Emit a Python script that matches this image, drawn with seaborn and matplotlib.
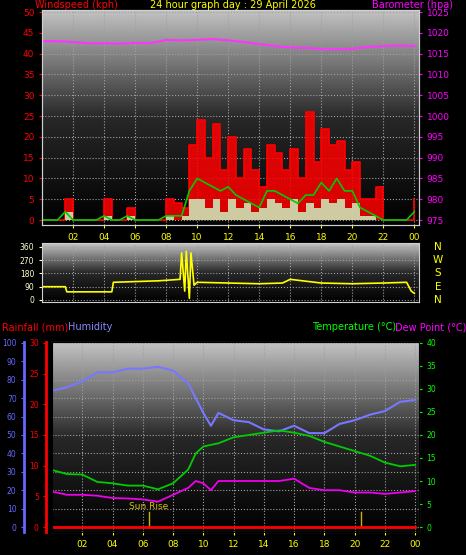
import numpy as np
import pandas as pd
import seaborn as sns
import matplotlib
matplotlib.use("Agg")
import matplotlib.pyplot as plt
from matplotlib.colors import LinearSegmentedColormap

# ---- data ----
half_hours = np.arange(0, 24.5, 0.5)
gust = [0, 0, 0, 5, 0, 0, 0, 0, 5, 0, 0, 3, 0, 0, 0, 0, 5, 4, 3, 18, 24, 15, 23, 12, 20, 10, 17,
        12, 8, 18, 16, 12, 17, 10, 26, 14, 22, 18, 19, 12, 14, 5, 5, 8, 0, 0, 0, 0, 5]
avg = [0, 0, 0, 2, 0, 0, 0, 0, 1, 0, 0, 1, 0, 0, 0, 0, 1, 1, 1, 7, 10, 9, 8, 7, 8, 6, 5,
       4, 3, 7, 7, 6, 5, 4, 6, 6, 9, 7, 10, 7, 7, 3, 2, 1, 0, 0, 0, 0, 2]
lull = [0, 0, 0, 2, 0, 0, 0, 0, 1, 0, 0, 1, 0, 0, 0, 0, 1, 0, 1, 5, 5, 3, 5, 2, 5, 3, 4,
        2, 3, 5, 4, 3, 5, 2, 4, 3, 5, 4, 5, 3, 4, 1, 1, 0, 0, 0, 0, 0, 1]

hours = np.arange(0, 25)
baro = [1018, 1018, 1017.8, 1017.5, 1017.5, 1017.4, 1017.6, 1017.5, 1018.3, 1018.2, 1018.3, 1018.5,
        1018.2, 1017.8, 1017.3, 1016.8, 1016.5, 1016.4, 1016.1, 1016, 1016.2, 1016.6, 1016.8, 1017, 1016.8]

dir_t = [0, 1.5, 1.6, 4.5, 4.6, 7.5, 8.9, 9.0, 9.2, 9.3, 9.5, 9.6, 9.8, 10.0, 12, 14, 15.5, 16, 18, 20, 22, 23.5, 23.8, 24]
dir_v = [90, 90, 55, 55, 120, 130, 140, 320, 60, 330, 10, 320, 100, 120, 115, 110, 115, 140, 115, 110, 115, 120, 60, 45]

hum_t = [0, 1, 2, 3, 4, 5, 6, 7, 8, 9, 10, 10.5, 11, 12, 13, 14, 15, 16, 17, 18, 19, 20, 21, 22, 23, 24]
hum = [74, 76, 79, 84, 84, 86, 86, 87, 85, 78, 62, 55, 62, 58, 57, 53, 52, 55, 51, 51, 56, 58, 61, 63, 68, 69]
temp_t = [0, 1, 2, 3, 4, 5, 6, 7, 8, 9, 9.5, 10, 11, 12, 13, 14, 15, 16, 17, 18, 19, 20, 21, 22, 23, 24]
temp = [12.4, 11.5, 11.4, 9.8, 9.5, 9, 9, 8.2, 9.5, 12.5, 16, 17.5, 18.2, 19.5, 20, 20.5, 21, 20.5,
        19.8, 18.5, 17.5, 16.5, 15.5, 14, 13.2, 13.5]
dew_t = [0, 1, 2, 3, 4, 5, 6, 7, 8, 9, 9.5, 10, 10.5, 11, 12, 13, 14, 15, 16, 17, 18, 19, 20, 21, 22, 23, 24]
dew = [7.7, 7, 7, 6.8, 6.3, 6.2, 6, 5.5, 7, 8.5, 10, 9.5, 8, 10, 10, 10, 10, 10, 10.5, 8.5, 8, 8,
       7.5, 7.5, 7.2, 7.5, 7.8]
rain_t = [0, 24]
rain = [0, 0]
sun_marks = [6.4, 20.4]

tick_hours = list(range(2, 25, 2))
tick_labels = ["%02d" % (h % 24) for h in tick_hours]

plt.rcParams['font.family'] = ['DejaVu Sans']
fig = plt.figure(figsize=(4.66, 5.55), dpi=100, facecolor='black')
cmap = LinearSegmentedColormap.from_list('bg', ['#000000', '#282828', '#c4c4c4'])
grad = np.linspace(0, 1, 256).reshape(-1, 1)[::-1]


def style(ax, xlim, ylim):
    ax.set_facecolor('black')
    ax.imshow(grad, extent=[xlim[0], xlim[1], ylim[0], ylim[1]], aspect='auto', cmap=cmap, zorder=0)
    ax.set_xlim(*xlim)
    ax.set_ylim(*ylim)
    ax.grid(True, color='#a0a0a0', linestyle=':', linewidth=0.8)
    for s in ax.spines.values():
        s.set_color('#d0d0d0')
    ax.tick_params(labelsize=6.5, length=2)


# ---- top: wind + barometer ----
ax1 = fig.add_axes([42 / 466, 1 - 225 / 555, 377 / 466, 215 / 555])
style(ax1, (0, 24.3), (-1.2, 50.5))
ax1.fill_between(half_hours, gust, step='post', color='#ff0000', alpha=0.85, linewidth=0, zorder=2)
sns.lineplot(x=half_hours, y=gust, ax=ax1, color='#ff0000', linewidth=1.2, drawstyle='steps-post', zorder=3)
ax1.fill_between(half_hours, lull, step='post', color='#ccffcc', alpha=0.8, linewidth=0, zorder=4)
sns.lineplot(x=half_hours, y=avg, ax=ax1, color='#00cc00', linewidth=1.2, zorder=5)
ax1.set_yticks(range(0, 51, 5))
ax1.tick_params(axis='y', colors='#ff0000')
ax1.set_xticks(tick_hours)
ax1.set_xticklabels(tick_labels)
ax1.tick_params(axis='x', colors='#ffff00')
ax1b = ax1.twinx()
ax1b.set_ylim(975 - 1.2, 975 + 50.5)
sns.lineplot(x=hours, y=baro, ax=ax1b, color='#ff33ff', linewidth=1.5)
ax1b.set_yticks(range(975, 1026, 5))
ax1b.tick_params(axis='y', colors='#ff00ff', labelsize=6.5, length=2)
ax1b.set_ylabel('')
for s in ax1b.spines.values():
    s.set_color('#d0d0d0')

fig.text(35 / 466, 1 - 5 / 555, 'Windspeed (kph)', color='#ff0000', fontsize=7, va='center')
fig.text(0.5, 1 - 5 / 555, '24 hour graph day : 29 April 2026', color='#ffff00', fontsize=7, ha='center', va='center')
fig.text(372 / 466, 1 - 5 / 555, 'Barometer (hpa)', color='#ff00ff', fontsize=7, va='center')

# ---- middle: wind direction ----
ax2 = fig.add_axes([42 / 466, 1 - 302 / 555, 377 / 466, 59 / 555])
style(ax2, (0, 24.3), (-14, 387))
sns.lineplot(x=dir_t, y=dir_v, ax=ax2, color='#ffff00', linewidth=1.2)
ax2.set_yticks([0, 90, 180, 270, 360])
ax2.tick_params(axis='y', colors='#ffffcc', labelsize=5.5)
ax2.set_xticks(tick_hours)
ax2.tick_params(axis='x', labelbottom=False, length=0)
for lab, v in zip(['N', 'E', 'S', 'W', 'N'], [0, 90, 180, 270, 360]):
    ax2.text(1.05, (v + 14) / 401, lab, transform=ax2.transAxes, color='#ffff00', fontsize=7.5, va='center', ha='center')

# ---- bottom: humidity, rain, temperature, dew point ----
ax3 = fig.add_axes([52 / 466, 1 - 532 / 555, 367 / 466, 190 / 555])
style(ax3, (0, 24.25), (-2.7, 100.5))
sns.lineplot(x=hum_t, y=hum, ax=ax3, color='#7777ff', linewidth=1.5)
ax3.set_yticks(range(0, 101, 10))
ax3.spines['left'].set_position(('outward', 20))
ax3.spines['left'].set_color('#6666ff')
ax3.spines['left'].set_linewidth(2)
ax3.tick_params(axis='y', colors='#6666ff', labelsize=5.5)
ax3.set_xticks(tick_hours)
ax3.set_xticklabels(tick_labels)
ax3.tick_params(axis='x', colors='#ffff00')
for t in sun_marks:
    ax3.plot([t, t], [0, 8], color='#c8b400', linewidth=1, zorder=4)
ax3.text(sun_marks[0], 11, 'Sun Rise', color='#d8c000', fontsize=6.5, ha='center', va='center')

ax3r = ax3.twinx()
ax3r.set_ylim(-2.7 * 0.3, 100.5 * 0.3)
ax3r.yaxis.set_ticks_position('left')
ax3r.spines['left'].set_position(('outward', 4))
ax3r.spines['left'].set_color('#ff0000')
ax3r.spines['left'].set_linewidth(2)
ax3r.spines['right'].set_visible(False)
sns.lineplot(x=rain_t, y=rain, ax=ax3r, color='#ff0000', linewidth=2)
ax3r.set_yticks(range(0, 31, 5))
ax3r.tick_params(axis='y', colors='#ff0000', labelsize=5.5, length=2, labelleft=True, labelright=False)
ax3r.set_ylabel('')

ax3t = ax3.twinx()
ax3t.set_ylim(-2.7 * 0.4, 100.5 * 0.4)
sns.lineplot(x=temp_t, y=temp, ax=ax3t, color='#00cc00', linewidth=1.3)
sns.lineplot(x=dew_t, y=dew, ax=ax3t, color='#ee00ee', linewidth=1.3)
ax3t.set_yticks(range(0, 41, 5))
ax3t.tick_params(axis='y', colors='#00ff00', labelsize=5.5, length=2)
ax3t.set_ylabel('')
for s in ['top', 'bottom']:
    ax3r.spines[s].set_visible(False)

fig.text(2 / 466, 1 - 327 / 555, 'Rainfall (mm)', color='#ff0000', fontsize=7, va='center')
fig.text(68 / 466, 1 - 327 / 555, 'Humidity', color='#8888ff', fontsize=7, va='center')
fig.text(312 / 466, 1 - 327 / 555, 'Temperature (°C)', color='#00ff00', fontsize=7, va='center')
fig.text(395 / 466, 1 - 327 / 555, 'Dew Point (°C)', color='#ff00ff', fontsize=7, va='center')

fig.savefig('out.png', dpi=100, facecolor='black')
